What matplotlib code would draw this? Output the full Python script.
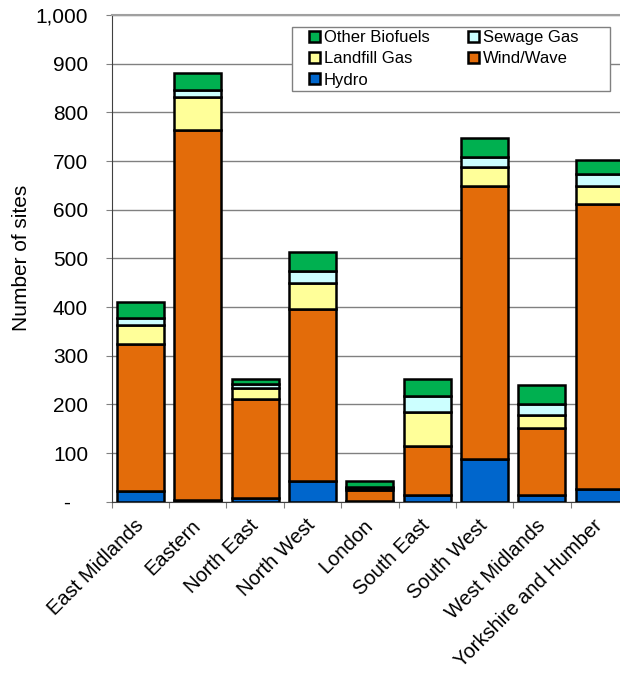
import numpy as np
import matplotlib
matplotlib.use('Agg')
import matplotlib.pyplot as plt
from matplotlib.patches import Rectangle
from matplotlib.ticker import FuncFormatter

plt.rcParams['font.family'] = ['Liberation Sans', 'DejaVu Sans']

regions = ['East Midlands', 'Eastern', 'North East', 'North West', 'London',
           'South East', 'South West', 'West Midlands', 'Yorkshire and Humber']
hydro = [21, 4, 8, 42, 1, 14, 88, 14, 27]
wind_wave = [304, 760, 204, 353, 23, 101, 561, 137, 585]
landfill = [38, 68, 21, 54, 5, 69, 39, 28, 37]
sewage = [14, 13, 8, 24, 2, 34, 21, 21, 24]
other_bio = [33, 35, 11, 41, 12, 35, 39, 40, 30]

series = [('Hydro', hydro, '#0066CC'),
          ('Wind/Wave', wind_wave, '#E36C0A'),
          ('Landfill Gas', landfill, '#FFFF99'),
          ('Sewage Gas', sewage, '#CCFFFF'),
          ('Other Biofuels', other_bio, '#00B050')]

W, H = 620, 675
fig = plt.figure(figsize=(W / 100, H / 100), dpi=100)
ax = fig.add_axes([111.7 / W, 1 - 501.7 / H, (628 - 111.7) / W, (501.7 - 15) / H])

x = np.arange(len(regions))
bottom = np.zeros(len(regions))
handles = {}
for name, vals, col in series:
    b = ax.bar(x, vals, 0.82, bottom=bottom, color=col, edgecolor='black',
               linewidth=1.8, label=name, zorder=3)
    handles[name] = b
    bottom += np.array(vals)

ax.set_xlim(-0.5, len(regions) - 0.5)
ax.set_ylim(0, 1000)
ax.set_yticks(np.arange(0, 1001, 100))
# accounting style: zero shown as a dash
ax.yaxis.set_major_formatter(FuncFormatter(lambda v, p: '-   ' if v == 0 else f'{int(v):,}'))
ax.grid(axis='y', color='#808080', linewidth=1, zorder=0)

# category boundaries get the tick marks, names sit under the bar centres
ax.set_xticks(np.arange(-0.5, len(regions), 1), minor=False)
ax.set_xticklabels([])
ax.set_xticks(x, minor=True)
ax.set_xticklabels(regions, minor=True, rotation=45, ha='right', va='center',
                   rotation_mode='anchor', fontsize=14.5)
ax.tick_params(axis='x', which='minor', length=0, pad=15)
ax.tick_params(axis='x', which='major', length=4, color='#808080', direction='out')
ax.tick_params(axis='y', length=4, color='#808080', labelsize=15, pad=13)

for s in ['top', 'right']:
    ax.spines[s].set_color('#A0A0A0')
    ax.spines[s].set_linewidth(1.5)
ax.spines['left'].set_color('#404040')
ax.spines['bottom'].set_color('#404040')

ax.set_ylabel('Number of sites', fontsize=15, labelpad=3)

# legend box (Excel style: wider padding on the right)
box = Rectangle((292 / W, 1 - 91 / H), 318 / W, 64 / H, transform=fig.transFigure,
                facecolor='white', edgecolor='#808080', linewidth=1, zorder=4)
ax.add_patch(box)
box.set_clip_on(False)

order = ['Other Biofuels', 'Landfill Gas', 'Hydro', 'Sewage Gas', 'Wind/Wave']
leg = ax.legend([handles[n] for n in order], order, ncol=2, fontsize=12,
                loc='upper left', bbox_to_anchor=(309 / W, 1 - 30 / H),
                bbox_transform=fig.transFigure, borderaxespad=0, borderpad=0,
                frameon=False, handlelength=0.65, handleheight=0.65, handletextpad=0.25,
                columnspacing=2.3, labelspacing=0.38)
leg.set_zorder(5)

fig.savefig('out.png', dpi=100)
